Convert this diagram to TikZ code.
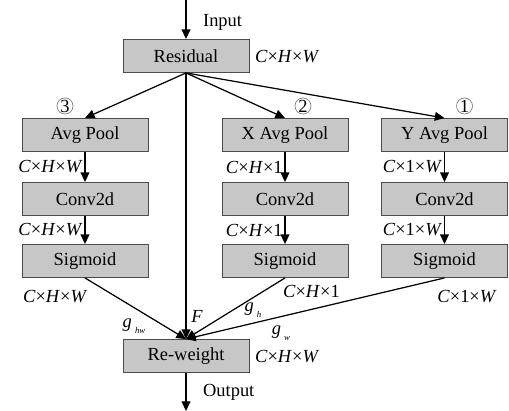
\documentclass[tikz,border=0pt]{standalone}
\usepackage{fontspec}
\setmainfont{Liberation Serif}
\usetikzlibrary{arrows.meta}

\newlength\boxw
\setlength\boxw{2.52cm}
\newlength\boxh
\setlength\boxh{0.66cm}

\tikzset{
  block/.style={draw=black!70, fill=black!22, line width=0.5pt,
    minimum width=\boxw, minimum height=\boxh, inner sep=0pt,
    font=\fontsize{10.5}{12}\selectfont},
  dimlabel/.style={inner sep=1pt, font=\fontsize{10.5}{12}\selectfont},
  numcircle/.style={circle, draw=black!50, line width=0.4pt, inner sep=0pt,
    minimum size=0.32cm, font=\fontsize{10.5}{12}\selectfont},
  flow/.style={line width=0.7pt, -{Triangle[length=5.5pt,width=5pt]}}
}

\begin{document}
\begin{tikzpicture}[x=0.02cm, y=-0.02cm]
    \useasboundingbox (0,0) rectangle (509,411);

    % input and residual block
    \coordinate (in) at (186,0);
    \node[block] (res) at (186,56) {Residual};
    \draw[flow] (in) -- (res);
    \node[dimlabel, anchor=west] (inlbl) at (201,22) {Input};
    \node[dimlabel, anchor=west] (resdim) at (253,57) {\textit{C}×\textit{H}×\textit{W}};

    % the three branches
    \foreach \col/\x/\title/\dima/\num/\numdx in {
        a/85/Avg Pool/{\textit{C}×\textit{H}×\textit{W}}/3/-20,
        x/285/X Avg Pool/{\textit{C}×\textit{H}×1}/2/18,
        y/444.5/Y Avg Pool/{\textit{C}×1×\textit{W}}/1/20} {
      \node[block] (pool\col) at (\x,135) {\title};
      \node[block] (conv\col) at (\x,199) {Conv2d};
      \node[block] (sig\col) at (\x,261) {Sigmoid};
      \node[numcircle] (num\col) at (\x+\numdx,106) {\num};
      \draw[flow] (res.south) -- (pool\col.north);
      \draw[flow] (pool\col) -- node[dimlabel, left] {\dima} (conv\col);
      \draw[flow] (conv\col) -- node[dimlabel, left] {\dima} (sig\col);
    }

    \node[dimlabel, anchor=west] (sigadim) at (21,297) {\textit{C}×\textit{H}×\textit{W}};
    \node[dimlabel, anchor=west] (sigxdim) at (281,291) {\textit{C}×\textit{H}×1};
    \node[dimlabel] (sigydim) at (467,297) {\textit{C}×1×\textit{W}};

    % re-weight block
    \node[block] (rew) at (186,356) {Re-weight};
    \draw[flow] (res.south) -- (rew.north);
    \draw[flow] (siga.south) -- (rew.north);
    \draw[flow] (sigx.south) -- (rew.north);
    \draw[flow] (sigy.south) -- (rew.north);

    \node[dimlabel] (flbl) at (197,316) {\textit{F}};
    \node[dimlabel] (ghw) at (134,326) {\textit{g}\,\raisebox{-0.7ex}{\tiny\textit{hw}}};
    \node[dimlabel] (gh) at (253,310) {\textit{g}\,\raisebox{-0.7ex}{\tiny\textit{h}}};
    \node[dimlabel] (gw) at (281,333) {\textit{g}\,\raisebox{-0.7ex}{\tiny\textit{w}}};

    \node[dimlabel, anchor=west] (rewdim) at (253,357) {\textit{C}×\textit{H}×\textit{W}};

    % output
    \coordinate (out) at (186,411);
    \draw[flow] (rew) -- (out);
    \node[dimlabel, anchor=west] (outlbl) at (201,392) {Output};
\end{tikzpicture}
\end{document}
